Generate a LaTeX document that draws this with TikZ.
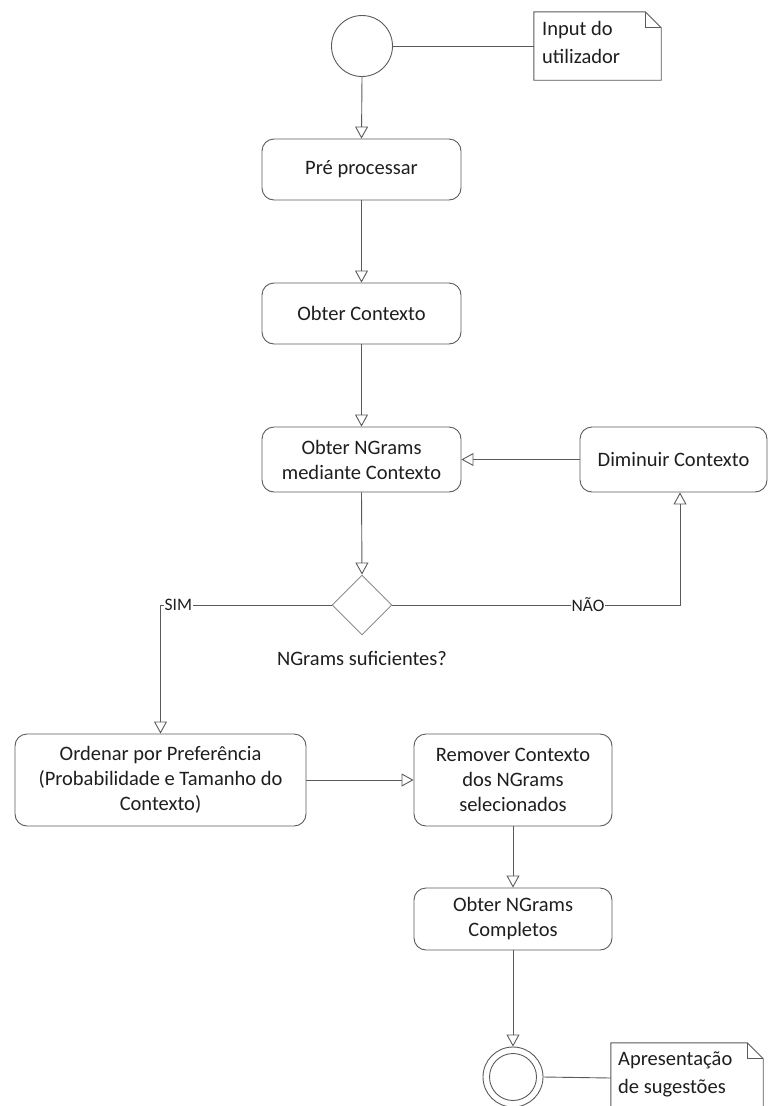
\documentclass[tikz,border=0pt]{standalone}
\usepackage{fontspec}
\setmainfont{Carlito}
\usetikzlibrary{arrows.meta,shapes.geometric}
\definecolor{ln}{HTML}{5A5A5A}
\definecolor{dg}{HTML}{8C8C8C}
\definecolor{tx}{HTML}{1E1E1E}
\tikzset{
  act/.style={rectangle, rounded corners=12pt, draw=ln, line width=0.9pt, align=center,
    font=\fontsize{20.5}{25}\selectfont, text=tx, inner sep=0pt},
  arr/.style={draw=ln, line width=0.9pt, -{Triangle[open, length=12pt, width=13pt]}},
  con/.style={draw=ln, line width=0.9pt},
  lbl/.style={fill=white, inner sep=1pt, font=\fontsize{17.5}{20}\selectfont, text=tx},
  notebox/.style={draw=none, inner sep=0pt},
  notetext/.style={font=\fontsize{20.5}{28}\selectfont, text=tx, align=left, anchor=north west, inner sep=0pt}
}
\begin{document}
\begin{tikzpicture}[x=1pt,y=-1pt]
\useasboundingbox (0,0) rectangle (768,1106);
\clip (0,0) rectangle (768,1106);

% start
\node[circle, draw=ln, line width=0.9pt, minimum size=61pt, inner sep=0pt] (start) at (362,46) {};
% note 1
\node[notebox, minimum width=127pt, minimum height=68pt] (n1) at (597.5,46) {};
\draw[con, fill=white] (n1.north west) -- ([xshift=-16pt]n1.north east) -- ([yshift=-16pt]n1.north east) -- (n1.south east) -- (n1.south west) -- cycle;
\draw[con] ([xshift=-16pt]n1.north east) -- ([xshift=-16pt,yshift=-16pt]n1.north east) -- ([yshift=-16pt]n1.north east);
\node[notetext] (n1t) at (542,21) {Input do\\utilizador};

% activities
\node[act, minimum width=199pt, minimum height=61pt] (pre) at (361.5,169.5) {Pré processar};
\node[act, minimum width=199pt, minimum height=61pt] (ctx) at (361.5,313.5) {Obter Contexto};
\node[act, minimum width=199pt, minimum height=65pt] (ngr) at (361.5,459.5) {Obter NGrams\\mediante Contexto};
\node[act, minimum width=187pt, minimum height=65pt] (dim) at (673.5,459.5) {Diminuir Contexto};
\node[diamond, draw=dg, line width=0.9pt, minimum width=60pt, minimum height=60pt, inner sep=0pt] (dia) at (362,605) {};
\node[font=\fontsize{20.5}{25}\selectfont, text=tx, inner sep=0pt] (dial) at (362,658) {NGrams suficientes?};
\node[act, minimum width=291pt, minimum height=92pt] (ord) at (160.5,780) {Ordenar por Preferência\\(Probabilidade e Tamanho do\\Contexto)};
\node[act, minimum width=198pt, minimum height=92pt] (rem) at (513,780) {Remover Contexto\\dos NGrams\\selecionados};
\node[act, minimum width=198pt, minimum height=62pt] (cmp) at (513,919) {Obter NGrams\\Completos};

% end
\node[circle, draw=ln, line width=0.9pt, minimum size=60pt, inner sep=0pt] (end) at (513,1077) {};
\node[circle, draw=ln, line width=0.9pt, minimum size=47pt, inner sep=0pt] (endin) at (513,1077) {};
% note 2
\node[notebox, minimum width=152pt, minimum height=70pt] (n2) at (687,1078) {};
\draw[con, fill=white] (n2.north west) -- ([xshift=-16pt]n2.north east) -- ([yshift=-16pt]n2.north east) -- (n2.south east) -- (n2.south west) -- cycle;
\draw[con] ([xshift=-16pt]n2.north east) -- ([xshift=-16pt,yshift=-16pt]n2.north east) -- ([yshift=-16pt]n2.north east);
\node[notetext] (n2t) at (618,1052) {Apresentação\\de sugestões};

% connectors
\draw[con] (start.east) -- (n1.west);
\draw[arr] (start.south) -- (pre.north);
\draw[arr] (pre.south) -- (ctx.north);
\draw[arr] (ctx.south) -- (ngr.north);
\draw[arr] (dim.west) -- (ngr.east);
\draw[arr] (ngr.south) -- (dia.north);
\draw[arr] (dia.west) -| node[lbl, pos=0.448] {SIM} (ord.north);
\draw[arr] (dia.east) -| node[lbl, pos=0.34] {NÃO} ([xshift=6.5pt]dim.south);
\draw[arr] (ord.east) -- (rem.west);
\draw[arr] (rem.south) -- (cmp.north);
\draw[arr] (cmp.south) -- (end.north);
\draw[con] (end.east) -- (n2.west);
\end{tikzpicture}
\end{document}
